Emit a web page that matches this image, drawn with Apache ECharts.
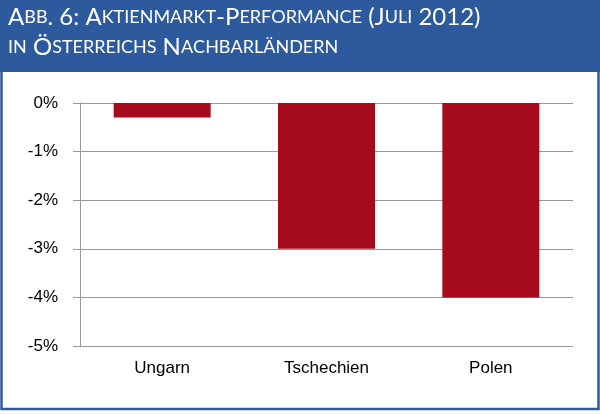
<!DOCTYPE html>
<html><head><meta charset="utf-8">
<script src="https://cdn.jsdelivr.net/npm/echarts@6/dist/echarts.min.js"></script>
<style>html,body{margin:0;padding:0;background:#fff}#c{width:600px;height:414px}</style>
</head><body><div id="c"></div>
<script>
const categories = ['Ungarn', 'Tschechien', 'Polen'];
const values = [-0.3, -3.0, -4.0];
const titleLines = ['Abb. 6: Aktienmarkt-Performance (Juli 2012)', 'in Österreichs Nachbarländern'];

function smallCaps(s) {
  let out = '';
  for (const ch of s) {
    const isLower = ch !== ch.toUpperCase();
    out += isLower ? '{s|' + ch.toUpperCase() + '}' : '{b|' + ch + '}';
  }
  return out;
}
const chart = echarts.init(document.getElementById('c'));
chart.setOption({
  animation: false,
  backgroundColor: '#fff',
  graphic: [
    {type: 'rect', shape: {x: 0, y: 0, width: 600, height: 72}, style: {fill: '#2c5a9c'}},
    {type: 'rect', shape: {x: 1.5, y: 70, width: 597, height: 339}, style: {fill: 'none', stroke: '#2c5a9c', lineWidth: 2.5}},
    {type: 'text', left: 8, top: 5, style: {
      text: titleLines.map(smallCaps).join('\n'),
      rich: {
        b: {fontSize: 24, fill: '#fff', fontFamily: 'Lato', lineHeight: 30, letterSpacing: 1},
        s: {fontSize: 18, fill: '#fff', fontFamily: 'Lato', lineHeight: 30, letterSpacing: 1}
      }
    }}
  ],
  grid: {left: 80, right: 27, top: 103, bottom: 68},
  xAxis: {
    type: 'category', data: categories, position: 'bottom',
    axisLine: {show: false}, axisTick: {show: false},
    axisLabel: {fontSize: 17, color: '#000', fontFamily: 'Liberation Sans', margin: 14}
  },
  yAxis: {
    type: 'value', min: -5, max: 0, interval: 1,
    axisLine: {show: true, lineStyle: {color: '#999'}},
    axisTick: {show: true, length: 7, lineStyle: {color: '#999'}},
    splitLine: {show: true, lineStyle: {color: '#999', width: 1}},
    axisLabel: {fontSize: 17, color: '#000', fontFamily: 'Liberation Sans', margin: 22, formatter: v => v + '%'}
  },
  series: [{
    type: 'bar', data: values, barWidth: 97,
    itemStyle: {color: '#a50b1a'}
  }]
});
</script></body></html>
